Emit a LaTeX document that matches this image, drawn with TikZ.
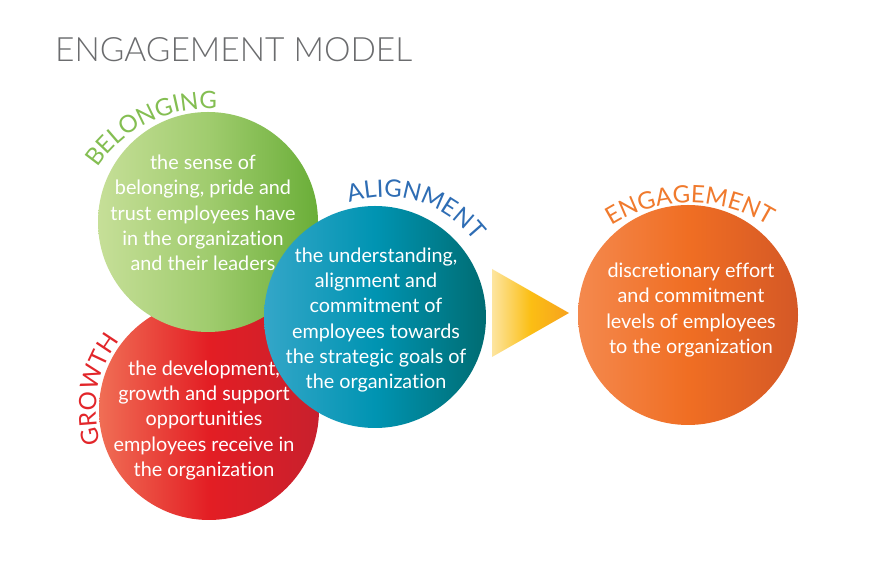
\documentclass[tikz,border=0pt]{standalone}
\usepackage{fontspec}
\setmainfont{Lato}[Ligatures=NoCommon]
\newfontfamily\titlefont{Lato Light}
\usetikzlibrary{decorations.text}
\definecolor{titlegray}{RGB}{107,108,110}
\definecolor{gL}{RGB}{198,223,152}
\definecolor{gM}{RGB}{160,204,110}
\definecolor{gR}{RGB}{106,174,56}
\definecolor{rL}{RGB}{240,110,85}
\definecolor{rM}{RGB}{227,30,36}
\definecolor{rR}{RGB}{200,32,45}
\definecolor{tL}{RGB}{52,166,200}
\definecolor{tM}{RGB}{0,148,178}
\definecolor{tR}{RGB}{0,108,114}
\definecolor{oL}{RGB}{244,137,78}
\definecolor{oM}{RGB}{240,110,35}
\definecolor{oR}{RGB}{212,88,38}
\definecolor{yL}{RGB}{253,229,160}
\definecolor{yM}{RGB}{251,190,20}
\definecolor{yR}{RGB}{247,162,30}
\definecolor{lblgreen}{RGB}{132,190,82}
\definecolor{lblred}{RGB}{226,38,42}
\definecolor{lblblue}{RGB}{46,109,180}
\definecolor{lblorange}{RGB}{240,122,45}
\newcommand\lblfont{\fontsize{24}{24}\selectfont}
\begin{document}
\begin{tikzpicture}[x=1pt,y=1pt,
  bubble/.style={circle, minimum size=220pt, inner sep=0pt},
  body/.style={align=center, text=white, font=\fontsize{19.8}{25.3}\selectfont},
]
\useasboundingbox (0,0) rectangle (886,561);
\fill[white] (0,0) rectangle (886,561);

\node[anchor=base west, text=titlegray, font=\titlefont\fontsize{33.5}{36}\selectfont, inner sep=0pt] (title) at (55,499) {ENGAGEMENT MODEL};

% circles
\node[bubble, left color=rL, right color=rR, middle color=rM] (red) at (209,151) {};
\node[bubble, left color=gL, right color=gR, middle color=gM] (green) at (208,339) {};
\node[bubble, minimum size=222pt, left color=tL, right color=tR, middle color=tM] (teal) at (375,244) {};
\node[bubble, left color=oL, right color=oR, middle color=oM] (orange) at (688,246) {};

% arrow triangle
\shade[left color=yL, right color=yR, middle color=yM] (492,292) -- (492,204) -- (569,248) -- cycle;

% texts
\node[body] (greentext) at (203,348) {the sense of\\belonging, pride and\\trust employees have\\in the organization\\and their leaders};
\node[body] (redtext) at (204,140.5) {the development,\\growth and support\\opportunities\\employees receive in\\the organization};
\node[body] (tealtext) at (376,241) {the understanding,\\alignment and\\commitment of\\employees towards\\the strategic goals of\\the organization};
\node[body] (orangetext) at (691,251) {discretionary effort\\and commitment\\levels of employees\\to the organization};

% curved labels (centred on the arc's middle angle)
\coordinate (cB) at (207,320);
\coordinate (cG) at (209,151);
\coordinate (cA) at (385,251);
\coordinate (cE) at (690,210);
\path[decorate, decoration={text along path, text align=center, text color=lblgreen, text={|\lblfont|BELONGING}}]
  ([shift={(176:132)}]cB) arc[start angle=176, end angle=56, radius=132];
\path[decorate, decoration={text along path, text align=center, text color=lblred, text={|\lblfont|GROWTH}}]
  ([shift={(229.5:113)}]cG) arc[start angle=229.5, end angle=109.5, radius=113];
\path[decorate, decoration={text along path, text align=center, text color=lblblue, text={|\lblfont|ALIGNMENT}}]
  ([shift={(133:113)}]cA) arc[start angle=133, end angle=13, radius=113];
\path[decorate, decoration={text along path, text align=center, text color=lblorange, text={|\lblfont|ENGAGEMENT}}]
  ([shift={(140:148)}]cE) arc[start angle=140, end angle=40, radius=148];
\end{tikzpicture}
\end{document}
